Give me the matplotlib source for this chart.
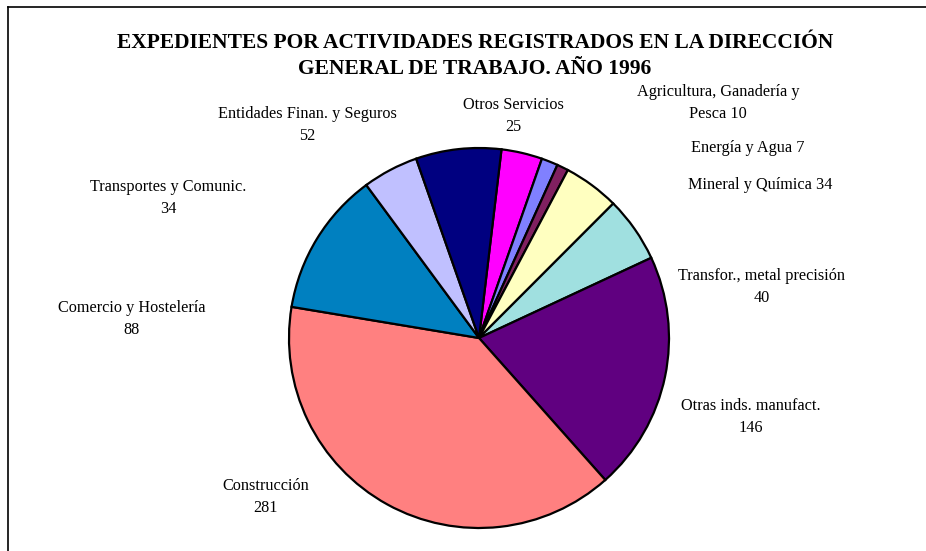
import matplotlib
matplotlib.use("Agg")
import matplotlib.pyplot as plt
from matplotlib.lines import Line2D

categories = ["Otros Servicios", "Agricultura, Ganadería y\nPesca", "Energía y Agua",
              "Mineral y Química", "Transfor., metal precisión", "Otras inds. manufact.",
              "Construcción", "Comercio y Hostelería", "Transportes y Comunic.",
              "Entidades Finan. y Seguros"]
values = [25, 10, 7, 34, 40, 146, 281, 88, 34, 52]
separators = ["\n", " ", " ", " ", "\n", "\n", "\n", "\n", "\n", "\n"]
colors = ["#FF00FF", "#8080FF", "#802060", "#FFFFC0", "#A0E0E0", "#600080",
          "#FF8080", "#0080C0", "#C0C0FF", "#000080"]
title = "EXPEDIENTES POR ACTIVIDADES REGISTRADOS EN LA DIRECCIÓN\nGENERAL DE TRABAJO. AÑO 1996"

# label centres in pixel coordinates (layout)
label_pos = [(513, 116), (718, 103), (748, 148), (760, 185), (762, 287),
             (751, 417), (266, 497), (132, 319), (168, 198), (307, 125)]

W, H = 926, 551
fig = plt.figure(figsize=(W / 100, H / 100), dpi=100)
ax = fig.add_axes([0, 0, 1, 1])
ax.set_xlim(0, W)
ax.set_ylim(0, H)
ax.axis("off")

cx, cy, r = 479, H - 338, 190
ax.pie(values, colors=colors, startangle=83.2, counterclock=False,
       center=(cx, cy), radius=r,
       wedgeprops=dict(edgecolor="black", linewidth=1.6), frame=False)
ax.set_xlim(0, W)
ax.set_ylim(0, H)
ax.set_aspect("auto")

serif = ["Liberation Serif", "DejaVu Serif"]
for name, sep, v, (px, py) in zip(categories, separators, values, label_pos):
    ax.text(px, H - py, f"{name}{sep}{v}", ha="center", va="center",
            fontsize=11.7, family=serif, linespacing=1.5, color="black")

ax.text(475, H - 56, title, ha="center", va="center", fontsize=15.5,
        fontweight="bold", family=serif, linespacing=1.4)

# frame lines (top and left)
fig.add_artist(Line2D([8 / W, 1], [1 - 7 / H, 1 - 7 / H], color="black", lw=1.2,
                      transform=fig.transFigure))
fig.add_artist(Line2D([8 / W, 8 / W], [0, 1 - 7 / H], color="black", lw=1.2,
                      transform=fig.transFigure))

fig.savefig("out.png", dpi=100, facecolor="white")
